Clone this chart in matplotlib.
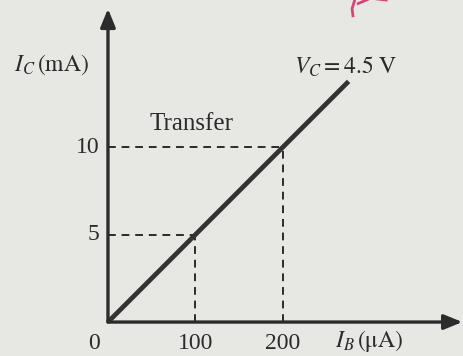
import matplotlib
matplotlib.use("Agg")
import matplotlib.pyplot as plt

# transfer characteristic at V_C = 4.5 V
ib_line = [0, 275]          # base current, uA
ic_line = [0, 13.75]        # collector current, mA

# marked points
ib_marks = [100, 200]
ic_marks = [5, 10]

x_ticks = [0, 100, 200]
y_ticks = [5, 10]

plt.rcParams['font.family'] = ['Liberation Serif', 'DejaVu Serif']
plt.rcParams['mathtext.fontset'] = 'stix'

paper = '#e7e7e4'
ink = '#2b2b2b'

fig = plt.figure(figsize=(4.64, 3.56), dpi=100, facecolor=paper)
ax = fig.add_axes([0, 0, 1, 1])
ax.set_facecolor(paper)
ax.set_xlim(-123.4, 406.9)
ax.set_ylim(-1.94, 18.4)
ax.axis('off')

# axes with arrow heads
ax.annotate('', xy=(405, 0), xytext=(0, 0),
            arrowprops=dict(arrowstyle='-|>,head_length=1.1,head_width=0.45',
                            color=ink, lw=2.4, shrinkA=0, shrinkB=0))
ax.annotate('', xy=(0, 17.9), xytext=(0, 0),
            arrowprops=dict(arrowstyle='-|>,head_length=1.1,head_width=0.45',
                            color=ink, lw=2.4, shrinkA=0, shrinkB=0))

# guide lines to the marked points
for xb, yc in zip(ib_marks, ic_marks):
    ax.plot([0, xb], [yc, yc], ls=(0, (4, 3)), color=ink, lw=1.4)
    ax.plot([xb, xb], [0, yc], ls=(0, (4, 3)), color=ink, lw=1.4)

ax.plot(ib_line, ic_line, color='#333333', lw=3.4, solid_capstyle='butt')

# tick labels
fs = 17
ax.text(-9, -1.25, '0', fontsize=fs, color=ink, ha='right', va='center')
for t in x_ticks[1:]:
    ax.text(t, -1.25, str(t), fontsize=fs, color=ink, ha='center', va='center')
for t in y_ticks:
    ax.text(-10, t, str(t), fontsize=fs, color=ink, ha='right', va='center')

ax.text(259, -1.1, r'$I_B\,(\mathrm{\mu A})$', fontsize=fs, color=ink,
        ha='left', va='center')
ax.text(-107, 14.7, r'$I_C\,(\mathrm{mA})$', fontsize=fs, color=ink,
        ha='left', va='center')
ax.text(213, 14.6, r'$V_C = 4.5\ \mathrm{V}$', fontsize=fs, color=ink,
        ha='left', va='center')
ax.text(48, 11.3, 'Transfer', fontsize=18, color=ink, ha='left', va='center')

# red pen stroke at the top edge
ax.plot([282, 279, 280], [18.4, 17.9, 17.5], color='#d9457a', lw=2.0)
ax.plot([286, 300, 318], [18.2, 18.5, 18.4], color='#d9457a', lw=2.0)

fig.savefig('out.png', dpi=100, facecolor=paper)
